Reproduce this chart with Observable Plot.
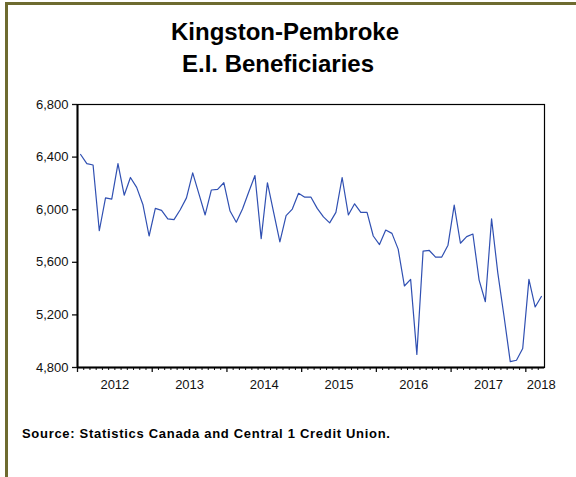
<!DOCTYPE html>
<html>
<head>
<meta charset="utf-8">
<script src="https://cdn.jsdelivr.net/npm/d3@7"></script>
<script src="https://cdn.jsdelivr.net/npm/@observablehq/plot@0.6"></script>
<style>
  html, body { margin: 0; padding: 0; background: #fff; }
  #chart { position: relative; width: 576px; height: 477px; background: #fff; overflow: hidden;
           font-family: "Liberation Sans", Arial, sans-serif; color: #111; }
  .bar { position: absolute; background: #6e6b30; }
  .title { position: absolute; font-weight: bold; font-size: 24px; line-height: 24px; white-space: nowrap;
           transform: translateX(-50%); color: #000; }
  #source { position: absolute; left: 22px; top: 427px; font-weight: bold; font-size: 13px; line-height: 13px;
            white-space: nowrap; color: #000; letter-spacing: 0.7px; }
  #plot { position: absolute; left: 0; top: 80px; }
</style>
</head>
<body>
<div id="chart">
  <div class="bar" style="left:5px;top:2px;width:571px;height:3px"></div>
  <div class="bar" style="left:5px;top:2px;width:3px;height:475px"></div>
  <div class="title" style="left:285px;top:20px">Kingston-Pembroke</div>
  <div class="title" style="left:278px;top:52px">E.I. Beneficiaries</div>
  <div id="plot"></div>
  <div id="source">Source: Statistics Canada and Central 1 Credit Union.</div>
</div>
<script>
// Monthly series, January 2012 to March 2018
const startYear = 2012;
const years = [2012, 2013, 2014, 2015, 2016, 2017, 2018];
const beneficiaries = [
  6420, 6350, 6340, 5840, 6090, 6080, 6350, 6110, 6245, 6170, 6040, 5800, // 2012
  6010, 5995, 5930, 5925, 6000, 6090, 6280, 6120, 5960, 6150, 6155, 6205, // 2013
  5990, 5905, 6005, 6135, 6260, 5780, 6205, 5980, 5755, 5955, 6005, 6125, // 2014
  6095, 6095, 6010, 5945, 5900, 5980, 6245, 5960, 6045, 5980, 5980, 5800, // 2015
  5735, 5845, 5820, 5700, 5420, 5470, 4900, 5685, 5690, 5640, 5640, 5730, // 2016
  6035, 5745, 5795, 5815, 5465, 5300, 5930, 5520, 5190, 4845, 4855, 4945, // 2017
  5470, 5260, 5340                                                        // 2018
];
const yTicks = [4800, 5200, 5600, 6000, 6400, 6800];

const nMonths = beneficiaries.length;
// each month occupies one slot; the point sits at the slot centre
const data = beneficiaries.map((v, i) => ({month: i + 0.5, value: v}));
const majorTicks = years.map(y => (y - startYear) * 12);
const minorTicks = d3.range(1, nMonths).filter(m => m % 12 !== 0);
const yearLabels = years.map(y => {
  const s = (y - startYear) * 12;
  const e = Math.min(s + 12, nMonths);
  return {year: String(y), mid: (s + e) / 2, partial: e - s < 12};
});

const chart = Plot.plot({
  width: 576,
  height: 320,
  marginTop: 24,
  marginBottom: 33,
  marginLeft: 77,
  marginRight: 32,
  style: {fontFamily: '"Liberation Sans", Arial, sans-serif', fontSize: "13px", color: "#111", background: "transparent"},
  x: {type: "linear", domain: [0, nMonths], axis: null},
  y: {domain: [4800, 6800], axis: null},
  marks: [
    Plot.axisY(yTicks, {anchor: "left", tickSize: 5, tickPadding: 4, tickFormat: d3.format(","), fontSize: 13, label: null, strokeWidth: 1.3}),
    Plot.axisX(majorTicks, {anchor: "bottom", tickSize: 5, tickFormat: () => "", label: null, strokeWidth: 1.3}),
    Plot.axisX(minorTicks, {anchor: "bottom", tickSize: 3, tickFormat: () => "", label: null, strokeWidth: 1}),
    Plot.text(yearLabels.filter(d => !d.partial), {x: "mid", text: "year", frameAnchor: "bottom", lineAnchor: "top", dy: 12, fontSize: 13}),
    Plot.text(yearLabels.filter(d => d.partial), {x: "mid", text: "year", frameAnchor: "bottom", lineAnchor: "top", dy: 12, dx: 6, fontSize: 13}),
    Plot.line(data, {x: "month", y: "value", stroke: "#3050b2", strokeWidth: 1.2}),
    Plot.frame({stroke: "#000", strokeWidth: 1.2}),
    Plot.ruleX([0], {stroke: "#000", strokeWidth: 2}),
    Plot.ruleY([4800], {stroke: "#000", strokeWidth: 2})
  ]
});
document.getElementById("plot").appendChild(chart);
</script>
</body>
</html>
